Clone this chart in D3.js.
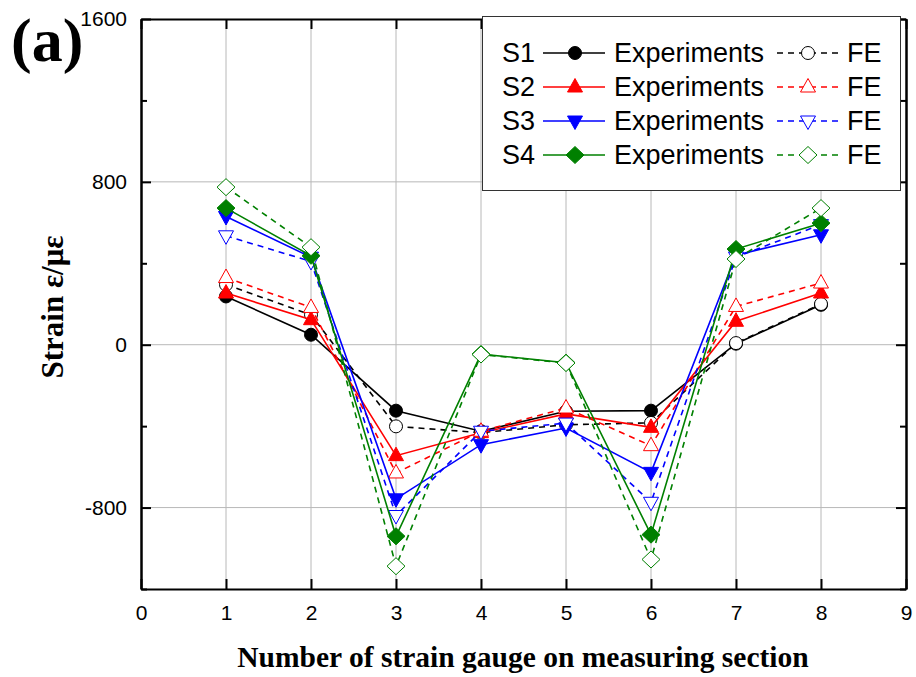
<!DOCTYPE html>
<html>
<head>
<meta charset="utf-8">
<script src="https://cdn.jsdelivr.net/npm/d3@7"></script>
<style>
  body { margin: 0; background: #fff; }
  svg { display: block; }
  .axis path, .axis line { stroke: #000; stroke-width: 2; }
  .axis text { font-family: "Liberation Sans", Arial, sans-serif; font-size: 21px; fill: #000; }
  .grid line { stroke: #b8b8b8; stroke-width: 1; }
  .label { font-family: "Liberation Serif", "Times New Roman", serif; font-weight: bold; fill: #000; }
  .legend text { font-family: "Liberation Sans", Arial, sans-serif; font-size: 27px; fill: #000; }
</style>
</head>
<body>
<div id="chart"></div>
<script>
// gauge positions on the measuring section
var gauges = [1, 2, 3, 4, 5, 6, 7, 8]

// strain values (microstrain)
var s1_exp = [237, 49, -324, -425, -327, -324, 5, 196]
var s1_fe  = [295, 147, -401, -432, -393, -384, 8, 200]
var s2_exp = [254, 123, -545, -432, -340, -406, 115, 254]
var s2_fe  = [330, 183, -630, -425, -311, -496, 188, 303]
var s3_exp = [630, 430, -757, -491, -409, -627, 440, 540]
var s3_fe  = [535, 409, -839, -425, -385, -774, 430, 590]
var s4_exp = [671, 437, -941, -46, -88, -933, 470, 597]
var s4_fe  = [774, 479, -1088, -48, -90, -1055, 421, 671]

var series_names = ["S1", "S2", "S3", "S4"]
var x_ticks = [0, 1, 2, 3, 4, 5, 6, 7, 8, 9]
var y_ticks = [-800, 0, 800, 1600]
var y_minor = [-1200, -400, 400, 1200]

var colors = ["#000000", "#ff0000", "#0000ff", "#008000"]
var shapes = ["circle", "up", "down", "diamond"]

var width = 916,
    height = 677

var svg = d3.select("#chart").append("svg")
  .attr("width", width)
  .attr("height", height)

var x = d3.scaleLinear().domain([0, 9]).range([141, 906])
var y = d3.scaleLinear().domain([-1200, 1600]).range([589, 19])

// plain labels, hyphen for the minus sign
var plain = function (d) { return String(d) }

// marker outline centred on 0,0
function markerPath(shape) {
  if (shape == "circle") {
    var r = 6.5
    return "M" + (-r) + ",0A" + r + "," + r + " 0 1,0 " + r + ",0A" + r + "," + r + " 0 1,0 " + (-r) + ",0Z"
  }
  if (shape == "up") return "M0,-8.5L7.5,5L-7.5,5Z"
  if (shape == "down") return "M0,8.5L7.5,-5L-7.5,-5Z"
  return "M0,-8.5L9,0L0,8.5L-9,0Z"
}

// grid
var grid = svg.append("g").attr("class", "grid")
grid.selectAll("line.v")
  .data(gauges)
  .enter().append("line")
    .attr("class", "v")
    .attr("x1", function (d) { return x(d) })
    .attr("x2", function (d) { return x(d) })
    .attr("y1", y(1600))
    .attr("y2", y(-1200))
grid.selectAll("line.h")
  .data([-800, 0, 800])
  .enter().append("line")
    .attr("class", "h")
    .attr("x1", x(0))
    .attr("x2", x(9))
    .attr("y1", function (d) { return y(d) })
    .attr("y2", function (d) { return y(d) })

// axes, ticks pointing inward
svg.append("g")
  .attr("class", "axis")
  .attr("transform", "translate(0," + y(-1200) + ")")
  .call(d3.axisBottom(x).tickValues(x_ticks).tickSize(-10).tickSizeOuter(0).tickPadding(16).tickFormat(plain))
svg.append("g")
  .attr("class", "axis")
  .attr("transform", "translate(0," + y(1600) + ")")
  .call(d3.axisTop(x).tickValues(x_ticks).tickSize(-10).tickSizeOuter(0).tickFormat(""))
svg.append("g")
  .attr("class", "axis")
  .attr("transform", "translate(" + x(0) + ",0)")
  .call(d3.axisLeft(y).tickValues(y_ticks).tickSize(-10).tickSizeOuter(0).tickPadding(14).tickFormat(plain))
svg.append("g")
  .attr("class", "axis")
  .attr("transform", "translate(" + x(0) + ",0)")
  .call(d3.axisLeft(y).tickValues(y_minor).tickSize(-6).tickSizeOuter(0).tickFormat(""))
svg.append("g")
  .attr("class", "axis")
  .attr("transform", "translate(" + x(9) + ",0)")
  .call(d3.axisRight(y).tickValues(y_ticks).tickSize(-10).tickSizeOuter(0).tickFormat(""))
svg.append("g")
  .attr("class", "axis")
  .attr("transform", "translate(" + x(9) + ",0)")
  .call(d3.axisRight(y).tickValues(y_minor).tickSize(-6).tickSizeOuter(0).tickFormat(""))

// series
var plots = [
  { values: s1_exp, s: 0, fe: false },
  { values: s1_fe,  s: 0, fe: true },
  { values: s2_exp, s: 1, fe: false },
  { values: s2_fe,  s: 1, fe: true },
  { values: s3_exp, s: 2, fe: false },
  { values: s3_fe,  s: 2, fe: true },
  { values: s4_exp, s: 3, fe: false },
  { values: s4_fe,  s: 3, fe: true }
]

var line = d3.line()
  .x(function (d) { return x(d[0]) })
  .y(function (d) { return y(d[1]) })

plots.forEach(function (p) {
  var pts = gauges.map(function (g, i) { return [g, p.values[i]] })
  var g = svg.append("g").attr("class", "series")
  g.append("path")
    .attr("d", line(pts))
    .attr("fill", "none")
    .attr("stroke", colors[p.s])
    .attr("stroke-width", 1.6)
    .attr("stroke-dasharray", p.fe ? "6,5" : null)
  g.selectAll("path.marker")
    .data(pts)
    .enter().append("path")
      .attr("class", "marker")
      .attr("d", markerPath(shapes[p.s]))
      .attr("transform", function (d) { return "translate(" + x(d[0]) + "," + y(d[1]) + ")" })
      .attr("fill", p.fe ? "#fff" : colors[p.s])
      .attr("stroke", colors[p.s])
      .attr("stroke-width", 1)
})

// legend
var legend = svg.append("g").attr("class", "legend")
legend.append("rect")
  .attr("x", 482.5)
  .attr("y", 16.5)
  .attr("width", 418)
  .attr("height", 174)
  .attr("fill", "#fff")
  .attr("stroke", "#333")
  .attr("stroke-width", 1)

series_names.forEach(function (name, i) {
  var cy = 53 + i * 34
  var row = legend.append("g")
  row.append("text").attr("x", 502).attr("y", cy + 9).text(name)
  row.append("line")
    .attr("x1", 543).attr("x2", 605).attr("y1", cy).attr("y2", cy)
    .attr("stroke", colors[i]).attr("stroke-width", 1.6)
  row.append("path")
    .attr("d", markerPath(shapes[i]))
    .attr("transform", "translate(575," + cy + ")")
    .attr("fill", colors[i]).attr("stroke", colors[i])
  row.append("text").attr("x", 614).attr("y", cy + 9).text("Experiments")
  row.append("line")
    .attr("x1", 777).attr("x2", 842).attr("y1", cy).attr("y2", cy)
    .attr("stroke", colors[i]).attr("stroke-width", 1.6)
    .attr("stroke-dasharray", "6,5")
  row.append("path")
    .attr("d", markerPath(shapes[i]))
    .attr("transform", "translate(808," + cy + ")")
    .attr("fill", "#fff").attr("stroke", colors[i])
  row.append("text").attr("x", 847).attr("y", cy + 9).text("FE")
})

// titles
svg.append("text")
  .attr("class", "label")
  .attr("x", 523)
  .attr("y", 667)
  .attr("text-anchor", "middle")
  .style("font-size", "29.5px")
  .text("Number of strain gauge on measuring section")

svg.append("text")
  .attr("class", "label")
  .attr("transform", "translate(63,307) rotate(-90)")
  .attr("text-anchor", "middle")
  .style("font-size", "31px")
  .text("Strain ε/με")

svg.append("text")
  .attr("class", "label")
  .attr("x", 11)
  .attr("y", 61)
  .style("font-size", "62px")
  .text("(a)")
</script>
</body>
</html>
